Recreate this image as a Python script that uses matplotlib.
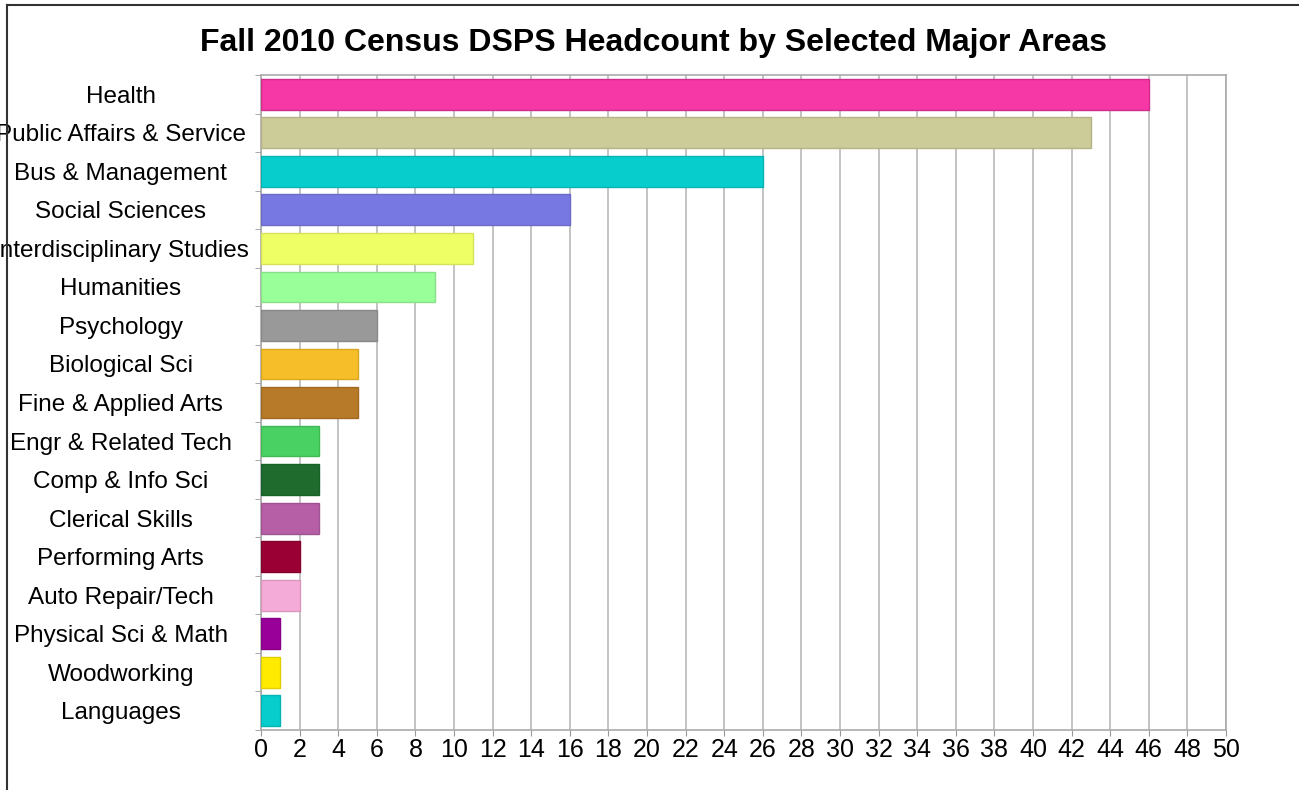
import matplotlib.pyplot as plt
from matplotlib.lines import Line2D
import numpy as np

categories = ['Health', 'Public Affairs & Service', 'Bus & Management', 'Social Sciences',
              'Interdisciplinary Studies', 'Humanities', 'Psychology', 'Biological Sci',
              'Fine & Applied Arts', 'Engr & Related Tech', 'Comp & Info Sci', 'Clerical Skills',
              'Performing Arts', 'Auto Repair/Tech', 'Physical Sci & Math', 'Woodworking', 'Languages']
headcount = [46, 43, 26, 16, 11, 9, 6, 5, 5, 3, 3, 3, 2, 2, 1, 1, 1]
bar_colors = ['#F637A6', '#CCCC99', '#07CDCD', '#7878E2', '#EEFF66', '#99FF99', '#999999',
              '#F6BE28', '#B77A28', '#4AD163', '#1E6B2D', '#B65FA6', '#9A0033', '#F5ABD7',
              '#990099', '#FFEB00', '#07CDCD']
edge_colors = ['#D02C8C', '#B4B488', '#06B4B4', '#6A6AC8', '#D4E25A', '#88E088', '#888888',
               '#D8A622', '#A06A22', '#40B856', '#1A5E28', '#A05492', '#86002C', '#D896BC',
               '#860086', '#E0CE00', '#06B4B4']
xticks = list(range(0, 51, 2))

plt.rcParams['font.family'] = ['Liberation Sans', 'DejaVu Sans']

fig = plt.figure(figsize=(12.99, 7.90), dpi=100)
ax = fig.add_axes([261 / 1299, 1 - 730 / 790, (1226 - 261) / 1299, (730 - 75) / 790])

y = np.arange(len(categories))
ax.barh(y, headcount, height=0.8, color=bar_colors, edgecolor=edge_colors, linewidth=1, zorder=3)

ax.set_xlim(0, 50)
ax.set_ylim(len(categories) - 0.5, -0.5)
ax.set_xticks(xticks)
ax.set_xticklabels([str(t) for t in xticks], fontsize=18)
ax.set_yticks(y)
ax.set_yticklabels(categories, fontsize=17.5)
for lbl in ax.get_yticklabels():
    lbl.set_horizontalalignment('center')
ax.tick_params(axis='y', which='major', length=0, pad=101)
ax.set_yticks(np.arange(-0.5, len(categories), 1), minor=True)
ax.tick_params(axis='y', which='minor', length=4, color='#999999', direction='out')
ax.tick_params(axis='x', length=4, color='#999999', pad=2)

ax.grid(axis='x', color='#b3b3b3', linewidth=1.1, zorder=0)
for s in ax.spines.values():
    s.set_color('#aaaaaa')
    s.set_linewidth(1.2)

fig.text(654 / 1299, 1 - 43 / 790, 'Fall 2010 Census DSPS Headcount by Selected Major Areas',
         ha='center', va='center', fontsize=23, fontweight='bold')

# outer border of the chart image
fig.add_artist(Line2D([7 / 1299, 7 / 1299], [0, 1 - 5 / 790], transform=fig.transFigure,
                      color='#333333', linewidth=1.5))
fig.add_artist(Line2D([7 / 1299, 1], [1 - 5 / 790, 1 - 5 / 790], transform=fig.transFigure,
                      color='#333333', linewidth=1.5))

fig.savefig('out.png', dpi=100)
